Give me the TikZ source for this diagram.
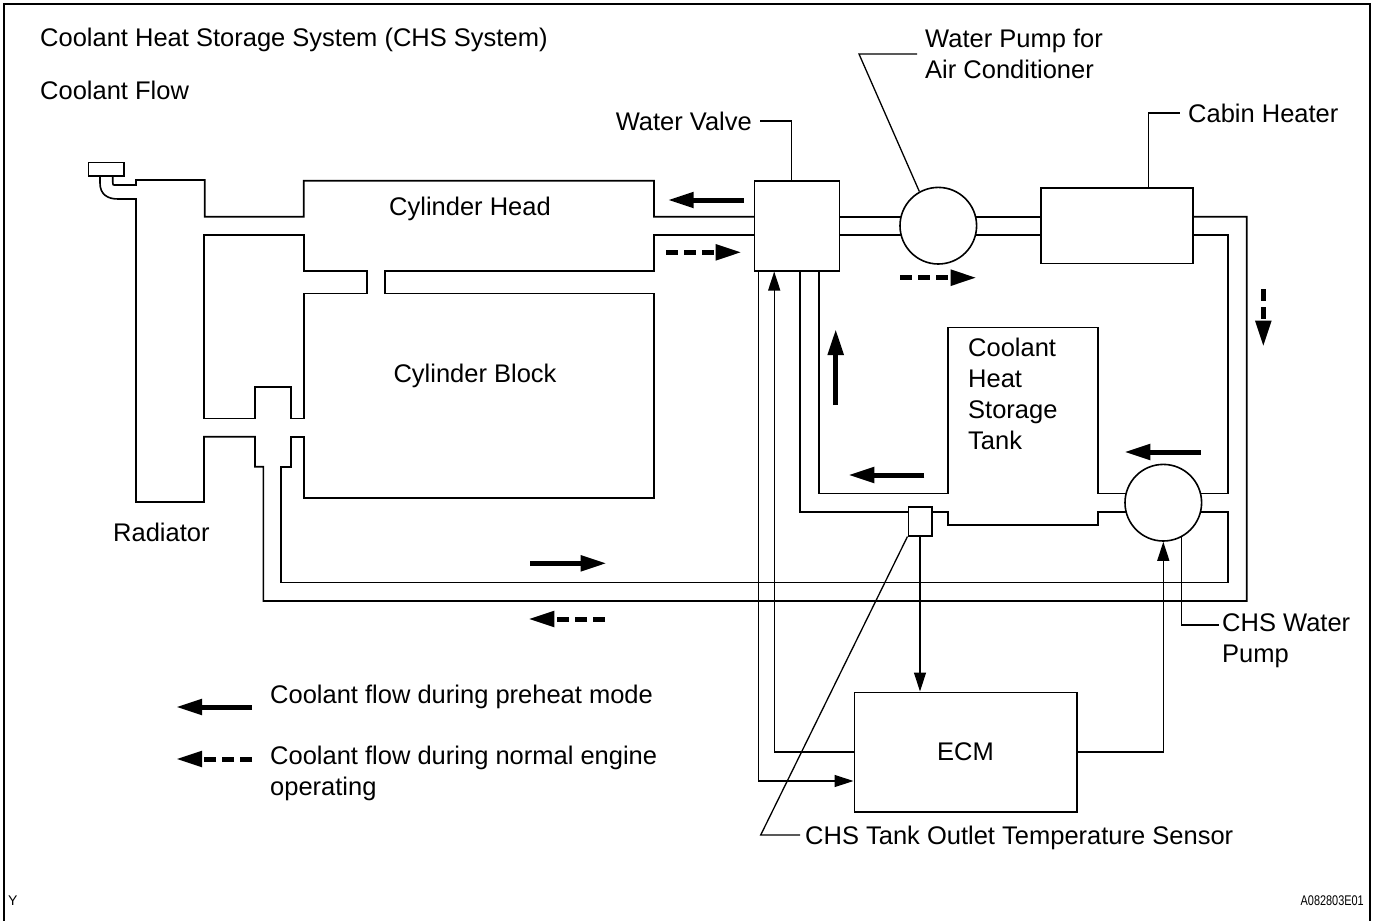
\documentclass[tikz,border=0pt]{standalone}
\usepackage{fontspec}
\setmainfont{Liberation Sans}
\usetikzlibrary{arrows.meta,calc,backgrounds}

\begin{document}
\begin{tikzpicture}[x=1pt, y=-1pt,
    pipe/.style={line width=1.6pt, line join=miter},
    sig/.style={line width=1.3pt},
    sigtip/.style={-{Triangle[length=19pt,width=12pt]}},
    part/.style={draw, line width=1.6pt, fill=white, inner sep=0pt},
    flow/.style={line width=5pt, -{Triangle[length=26pt,width=15pt]}},
    flowdash/.style={flow, dash pattern=on 12pt off 6pt},
    lbl/.style={font=\fontsize{25.5}{31}\selectfont, inner sep=0pt, align=left}]
    \useasboundingbox (0,0) rectangle (1374,921);
    \draw[line width=1.2pt] (4,4) rectangle (1370,940);

    % parts
    \node[part, minimum width=85pt, minimum height=90pt] (valve) at (796.8,225.7) {};
    \node[part, circle, minimum size=76.6pt] (acpump) at (938.3,225.7) {};
    \node[part, minimum width=151.7pt, minimum height=75.6pt] (heater) at (1116.9,225.5) {};
    \node[part, circle, minimum size=76.6pt] (chspump) at (1163.3,502.7) {};
    \node[part, minimum width=23.4pt, minimum height=29pt] (sensor) at (920,521.2) {};
    \node[part, lbl, minimum width=222.4pt, minimum height=119.4pt] (ecm) at (965.5,752) {ECM};

    % coolant pipes
    \begin{scope}[on background layer]
    \draw[pipe] (88.3,162.3) rectangle (124,175.7);
    \draw[pipe] (100,175.7) -- (100,183) .. controls (100,194) and (107,199) .. (118,199) -- (136,199)
        -- (136,502) -- (204,502) -- (204,436.7) -- (255,436.7) -- (255,466.7) -- (263.3,466.7)
        -- (263.3,601) -- (1246.7,601) -- (1246.7,216.7) -- (1192.7,216.7);
    \draw[pipe] (112.7,175.7) -- (112.7,182) .. controls (112.7,185) .. (116,185) -- (136,185) -- (136,180)
        -- (204.7,180) -- (204.7,216.7) -- (303.7,216.7) -- (303.7,180.7) -- (654,180.7) -- (654,216.7) -- (754.3,216.7);
    \draw[pipe] (754.3,235) -- (654,235) -- (654,270.7) -- (384.7,270.7) -- (384.7,293.3) -- (654,293.3)
        -- (654,497.7) -- (303.7,497.7) -- (303.7,436.7) -- (290.7,436.7) -- (290.7,466.7) -- (281,466.7)
        -- (281,582.3) -- (1228,582.3) -- (1228,511.7) -- (1163,511.7);
    \draw[pipe] (366.7,270.7) -- (303.7,270.7) -- (303.7,235) -- (204,235) -- (204,418.3) -- (255,418.3)
        -- (255,386.7) -- (290.7,386.7) -- (290.7,418.3) -- (303.7,418.3) -- (303.7,293.3) -- (366.7,293.3) -- cycle;
    \draw[pipe] (839.3,216.7) -- (1041,216.7);
    \draw[pipe] (839.3,235) -- (1041,235);
    \draw[pipe] (1192.7,235) -- (1228,235) -- (1228,493.3) -- (1163,493.3);
    \draw[pipe] (800,270.7) -- (800,512) -- (947.7,512) -- (947.7,525) -- (1097.7,525) -- (1097.7,511.7) -- (1163,511.7);
    \draw[pipe] (819,270.7) -- (819,493.3) -- (947.7,493.3) -- (947.7,327.3) -- (1097.7,327.3) -- (1097.7,493.3) -- (1163,493.3);
    \end{scope}

    % labels
    \node[lbl, anchor=west] (title) at (40,40) {Coolant Heat Storage System (CHS System)};
    \node[lbl, anchor=west] (flowlbl) at (40,90) {Coolant Flow};
    \node[lbl, anchor=east] (valvelbl) at (752,121) {Water Valve};
    \node[lbl, anchor=west] (acpumplbl) at (925,54) {Water Pump for\\Air Conditioner};
    \node[lbl, anchor=west] (heaterlbl) at (1188,113) {Cabin Heater};
    \node[lbl] (headlbl) at (470,209) {Cylinder Head};
    \node[lbl] (blocklbl) at (475,376) {Cylinder Block};
    \node[lbl, anchor=west] (tanklbl) at (968,393.5) {Coolant\\Heat\\Storage\\Tank};
    \node[lbl, anchor=west] (radlbl) at (113,532) {Radiator};
    \node[lbl, anchor=west] (pumplbl) at (1222,641) {CHS Water\\Pump};
    \node[lbl, anchor=west] (sensorlbl) at (805,838) {CHS Tank Outlet Temperature Sensor};
    \node[lbl, anchor=west] (leg1) at (270,697) {Coolant flow during preheat mode};
    \node[lbl, anchor=west] (leg2) at (270,773) {Coolant flow during normal engine\\operating};
    \node[font=\fontsize{14}{16}\selectfont, inner sep=0pt, anchor=west] (ylbl) at (8,901) {Y};
    \node[font=\fontsize{14}{16}\selectfont, inner sep=0pt, anchor=east] (code) at (1364,901) {\scalebox{0.78}[1]{A082803E01}};

    % leaders
    \draw[sig] ($(valvelbl.east)+(8,0)$) -| ($(valve.north)+(-5,0)$);
    \draw[sig] (acpump.119) -- (859,54) -- (917,54);
    \draw[sig] ($(heater.north)+(31.4,0)$) |- ($(heaterlbl.west)+(-8,0)$);
    \draw[sig] (chspump.-62) |- ($(pumplbl.west)+(-3,-16)$);
    \draw[sig] (sensor.south west) -- (760.7,835) -- ($(sensorlbl.west)+(-5,-3)$);

    % signals
    \draw[sig, sigtip] ($(valve.south west)+(5,0)$) |- ($(ecm.west)+(0,29)$);
    \draw[sig, sigtip] (ecm.west) -| ($(valve.south west)+(20.7,0)$);
    \draw[sig, sigtip] (sensor.south) -- (sensor.south |- ecm.north);
    \draw[sig, sigtip] (ecm.east) -| (chspump.south);

    % flow arrows
    \draw[flow] (744,200) -- (667.7,200);
    \draw[flow] (835.7,405) -- (835.7,329);
    \draw[flow] (924.3,475) -- (848.3,475);
    \draw[flow] (1200.7,452) -- (1124.3,452);
    \draw[flow] (530,563.3) -- (606.7,563.3);
    \draw[flowdash] (666,252.3) -- (741.7,252.3);
    \draw[flowdash] (900,277.7) -- (976.7,277.7);
    \draw[flowdash] (1263.3,289) -- (1263.3,346.7);
    \draw[flowdash] (605,619) -- (528.3,619);
    % legend
    \draw[flow] (252,707) -- (176,707);
    \draw[flowdash] (252,759) -- (176,759);
\end{tikzpicture}
\end{document}
